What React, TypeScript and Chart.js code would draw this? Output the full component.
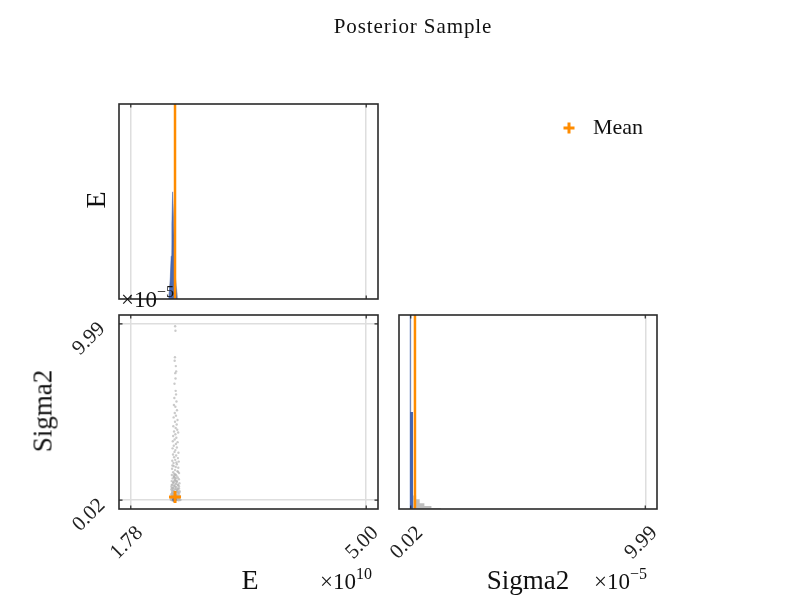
import React, { useEffect, useRef } from "react";
import { Chart, registerables } from "chart.js";
Chart.register(...registerables);

const W = 798;
const H = 600;

const TITLE = "Posterior Sample";
const PARAM_NAMES = ["E", "Sigma2"];
const LEGEND_LABEL = "Mean";
const E_EXP = "10";
const S_EXP = "\u22125";

const E_TICKS = [1.78, 5.0];
const S_TICKS = [0.02, 9.99];
const E_RANGE = [1.619, 5.161];
const S_RANGE = [-0.4785, 10.4885];

const E_MEAN = 2.385;
const S_MEAN = 0.2;
const TRUE_E = 2.377;
const TRUE_S = 0.05;

// marginal histogram of E (x in 1e10, density arbitrary)
const E_HIST_X = [2.3, 2.318, 2.332, 2.342, 2.352, 2.362, 2.375, 2.392, 2.414];
const E_HIST_Y = [0, 16, 40, 70, 100, 82, 50, 18, 0];
const E_HIST2_X = [2.29, 2.315, 2.338, 2.358, 2.38, 2.402, 2.43];
const E_HIST2_Y = [0, 18, 46, 68, 44, 16, 0];
const E_YMAX = 182;

// marginal histogram of Sigma2 (x in 1e-5)
const S_HIST_X = [-0.03, -0.03, 0.02, 0.02, 0.12, 0.12];
const S_HIST_Y = [0, 130, 130, 50, 50, 0];
const S_TAIL_X = [0.12, 0.12, 0.25, 0.25, 0.4, 0.4, 0.6, 0.6, 0.9, 0.9, 1.3, 1.3];
const S_TAIL_Y = [0, 7, 7, 5, 5, 3, 3, 1.5, 1.5, 0.5, 0.5, 0];
const S_YMAX = 100;

// posterior samples (E in 1e10, Sigma2 in 1e-5)
const SAMPLE_E = [
  2.387, 2.391, 2.384, 2.380, 2.396, 2.388, 2.401, 2.392, 2.378, 2.394,
  2.399, 2.376, 2.405, 2.370, 2.390, 2.412, 2.382, 2.398, 2.366, 2.419,
  2.385, 2.408, 2.362, 2.394, 2.415, 2.372, 2.428, 2.390, 2.360, 2.403,
  2.380, 2.355, 2.420, 2.397, 2.368, 2.410, 2.352, 2.390, 2.378, 2.432,
  2.358, 2.400, 2.372, 2.425, 2.388, 2.348, 2.436, 2.365, 2.410, 2.350,
  2.395, 2.430, 2.345, 2.385, 2.418, 2.360, 2.440, 2.375, 2.342, 2.405,
  2.370, 2.422, 2.352, 2.438, 2.385, 2.340, 2.412, 2.362, 2.445, 2.392,
  2.348, 2.428, 2.378, 2.336, 2.402, 2.358, 2.440, 2.386, 2.334, 2.415,
  2.366, 2.448, 2.345, 2.395, 2.425, 2.356, 2.380, 2.332, 2.438, 2.405,
  2.350, 2.372, 2.452, 2.392, 2.340, 2.418, 2.362, 2.432, 2.384, 2.330,
  2.408, 2.368, 2.442, 2.348, 2.396, 2.328, 2.422, 2.364, 2.388, 2.455,
  2.343, 2.410, 2.358, 2.435, 2.376, 2.338, 2.460, 2.398, 2.354, 2.420,
  2.346, 2.400, 2.370, 2.428, 2.340, 2.446, 2.382, 2.356, 2.415, 2.366,
  2.338, 2.440, 2.404, 2.350, 2.390, 2.426,
  2.352, 2.368, 2.384, 2.398, 2.412, 2.426, 2.344, 2.360, 2.376, 2.392,
  2.406, 2.420, 2.436, 2.348, 2.364, 2.380, 2.396, 2.414, 2.430, 2.356,
  2.372, 2.388, 2.404, 2.418, 2.342, 2.366, 2.382, 2.400, 2.424, 2.358,
  2.374, 2.390, 2.410, 2.434, 2.350, 2.378, 2.394, 2.416, 2.362, 2.386,
];
const SAMPLE_S = [
  9.85, 9.60, 8.10, 7.90, 7.60, 7.20, 7.30, 6.90, 6.60, 6.20,
  6.00, 5.80, 5.60, 5.40, 5.30, 5.10, 4.95, 4.80, 4.70, 4.55,
  4.45, 4.30, 4.20, 4.10, 4.00, 3.90, 3.85, 3.75, 3.65, 3.55,
  3.45, 3.35, 3.30, 3.20, 3.10, 3.00, 2.95, 2.85, 2.75, 2.70,
  2.60, 2.55, 2.45, 2.40, 2.30, 2.25, 2.20, 2.12, 2.05, 1.98,
  1.90, 1.85, 1.80, 1.72, 1.66, 1.60, 1.55, 1.50, 1.44, 1.40,
  1.35, 1.30, 1.25, 1.20, 1.15, 1.10, 1.06, 1.02, 0.98, 0.94,
  0.90, 0.86, 0.82, 0.78, 0.75, 0.72, 0.68, 0.65, 0.62, 0.59,
  0.56, 0.53, 0.50, 0.47, 0.44, 0.41, 0.38, 0.36, 0.34, 0.31,
  0.29, 0.27, 0.25, 0.23, 0.21, 0.19, 0.17, 0.15, 0.13, 0.12,
  0.10, 0.09, 0.08, 0.07, 0.06, 0.05, 0.05, 0.04, 0.035, 0.03,
  0.03, 0.025, 0.02, 0.02, 0.02, 0.025, 0.04, 0.15, 0.33, 0.52,
  0.70, 1.08, 1.38, 1.62, 0.88, 0.46, 1.27, 0.11, 0.58, 1.95,
  0.24, 0.80, 2.15, 0.40, 1.48, 0.67,
  0.08, 0.12, 0.05, 0.18, 0.10, 0.07, 0.22, 0.30, 0.14, 0.26,
  0.35, 0.20, 0.11, 0.45, 0.55, 0.40, 0.62, 0.50, 0.28, 0.70,
  0.85, 0.78, 0.95, 0.66, 0.16, 1.05, 1.15, 1.25, 0.88, 0.38,
  1.32, 1.45, 1.10, 0.42, 0.58, 0.04, 0.09, 0.24, 1.00, 0.32,
];

const ORANGE = "#ff8c00";
const BLUE = "rgba(52,88,170,0.9)";
const GRAY = "rgba(180,180,180,0.7)";
const GRID = "#dedede";
const FRAME = "#2a2a2a";
const SERIF = "'Liberation Serif', 'Times New Roman', serif";

const XAXIS_H = 80;
const YAXIS_W = 100;

const zipXY = (xs: number[], ys: number[]) =>
  xs.slice(0, Math.min(xs.length, ys.length)).map((x, i) => ({ x, y: ys[i] }));

const fmt2 = (v: any) => Number(v).toFixed(2);

function framePlugin(yTicks: boolean) {
  return {
    id: "frame",
    afterDraw(chart: any) {
      const { ctx, chartArea: a } = chart;
      ctx.save();
      ctx.strokeStyle = FRAME;
      ctx.lineWidth = 1.2;
      const xs = chart.scales.x;
      ctx.beginPath();
      for (const t of xs.ticks) {
        const px = xs.getPixelForValue(t.value);
        ctx.moveTo(px, a.top);
        ctx.lineTo(px, a.top + 3.5);
        ctx.moveTo(px, a.bottom);
        ctx.lineTo(px, a.bottom - 3.5);
      }
      if (yTicks) {
        const ys = chart.scales.y;
        for (const t of ys.ticks) {
          const py = ys.getPixelForValue(t.value);
          ctx.moveTo(a.left, py);
          ctx.lineTo(a.left + 3.5, py);
          ctx.moveTo(a.right, py);
          ctx.lineTo(a.right - 3.5, py);
        }
      }
      ctx.stroke();
      ctx.lineWidth = 1.6;
      ctx.strokeRect(a.left, a.top, a.right - a.left, a.bottom - a.top);
      ctx.restore();
    },
  };
}

const legendPlugin = {
  id: "meanLegend",
  afterDraw(chart: any) {
    const { ctx } = chart;
    ctx.save();
    ctx.strokeStyle = ORANGE;
    ctx.lineWidth = 3;
    const cx = 569;
    const cy = 128;
    ctx.beginPath();
    ctx.moveTo(cx - 5.5, cy);
    ctx.lineTo(cx + 5.5, cy);
    ctx.moveTo(cx, cy - 5.5);
    ctx.lineTo(cx, cy + 5.5);
    ctx.stroke();
    ctx.fillStyle = "#111";
    ctx.font = `22px ${SERIF}`;
    ctx.textBaseline = "middle";
    ctx.textAlign = "left";
    ctx.fillText(LEGEND_LABEL, 593, 128);
    ctx.restore();
  },
};

const tickFont = { family: SERIF, size: 21 };

function xAxis(range: number[], ticks: number[], showLabels: boolean) {
  return {
    type: "linear",
    position: "bottom",
    min: range[0],
    max: range[1],
    afterBuildTicks: (s: any) => {
      s.ticks = ticks.map((v) => ({ value: v }));
    },
    afterFit: (s: any) => {
      s.height = showLabels ? XAXIS_H : 0;
    },
    ticks: {
      display: showLabels,
      autoSkip: false,
      minRotation: 45,
      maxRotation: 45,
      padding: 12,
      labelOffset: 9,
      color: "#222",
      font: tickFont,
      callback: fmt2,
    },
    grid: { color: GRID, lineWidth: 1.5, drawTicks: false },
    border: { display: false },
  };
}

function pad(l: number, t: number, r: number, b: number) {
  return { left: l, top: t, right: W - r, bottom: H - b };
}

export default function App() {
  const r1 = useRef<HTMLCanvasElement>(null);
  const r2 = useRef<HTMLCanvasElement>(null);
  const r3 = useRef<HTMLCanvasElement>(null);

  useEffect(() => {
    const common = {
      responsive: false,
      animation: false,
      events: [],
      plugins: { legend: { display: false }, tooltip: { enabled: false }, title: { display: false } },
    };

    const c1 = new Chart(r1.current!, {
      type: "line",
      data: {
        datasets: [
          {
            data: [
              { x: E_MEAN, y: 0 },
              { x: E_MEAN, y: E_YMAX },
            ],
            borderColor: ORANGE,
            borderWidth: 2.5,
            pointRadius: 0,
            fill: false,
          },
          {
            data: zipXY(E_HIST_X, E_HIST_Y),
            fill: "origin",
            backgroundColor: "rgba(52,88,170,0.85)",
            borderColor: "rgba(52,88,170,0.9)",
            borderWidth: 0.5,
            pointRadius: 0,
          },
          {
            data: zipXY(E_HIST2_X, E_HIST2_Y),
            fill: "origin",
            backgroundColor: "rgba(170,170,170,0.55)",
            borderWidth: 0,
            pointRadius: 0,
          },
        ],
      },
      options: {
        ...common,
        layout: { padding: pad(119, 104, 378, 299) },
        scales: {
          x: xAxis(E_RANGE, E_TICKS, false),
          y: { type: "linear", min: 0, max: E_YMAX, display: false },
        },
      } as any,
      plugins: [framePlugin(false)],
    } as any);

    const c2 = new Chart(r2.current!, {
      type: "scatter",
      data: {
        datasets: [
          {
            data: [{ x: E_MEAN, y: S_MEAN }],
            pointStyle: "cross",
            pointRadius: 6,
            borderColor: ORANGE,
            borderWidth: 3,
          },
          {
            data: [{ x: TRUE_E, y: TRUE_S }],
            pointRadius: 2.2,
            backgroundColor: BLUE,
            borderWidth: 0,
          },
          {
            data: zipXY(SAMPLE_E, SAMPLE_S),
            pointRadius: 1.2,
            backgroundColor: GRAY,
            borderWidth: 0,
          },
        ],
      },
      options: {
        ...common,
        layout: { padding: { left: 119 - YAXIS_W, top: 315, right: W - 378, bottom: H - 509 - XAXIS_H } },
        scales: {
          x: xAxis(E_RANGE, E_TICKS, true),
          y: {
            type: "linear",
            position: "left",
            min: S_RANGE[0],
            max: S_RANGE[1],
            afterBuildTicks: (s: any) => {
              s.ticks = S_TICKS.map((v) => ({ value: v }));
            },
            afterFit: (s: any) => {
              s.width = YAXIS_W;
            },
            ticks: {
              autoSkip: false,
              minRotation: 45,
              maxRotation: 45,
              padding: 17,
              labelOffset: 2,
              color: "#222",
              font: tickFont,
              callback: fmt2,
            },
            grid: { color: GRID, lineWidth: 1.5, drawTicks: false },
            border: { display: false },
          },
        },
      } as any,
      plugins: [framePlugin(true)],
    } as any);

    const c3 = new Chart(r3.current!, {
      type: "line",
      data: {
        datasets: [
          {
            data: [
              { x: S_MEAN, y: 0 },
              { x: S_MEAN, y: S_YMAX },
            ],
            borderColor: ORANGE,
            borderWidth: 2.5,
            pointRadius: 0,
            fill: false,
          },
          {
            data: zipXY(S_HIST_X, S_HIST_Y),
            fill: "origin",
            backgroundColor: BLUE,
            borderWidth: 0,
            pointRadius: 0,
          },
          {
            data: zipXY(S_TAIL_X, S_TAIL_Y),
            fill: "origin",
            backgroundColor: "rgba(175,175,175,0.8)",
            borderWidth: 0,
            pointRadius: 0,
          },
        ],
      },
      options: {
        ...common,
        layout: { padding: { left: 399, top: 315, right: W - 657, bottom: H - 509 - XAXIS_H } },
        scales: {
          x: xAxis(S_RANGE, S_TICKS, true),
          y: { type: "linear", min: 0, max: S_YMAX, display: false },
        },
      } as any,
      plugins: [framePlugin(false), legendPlugin],
    } as any);

    return () => {
      c1.destroy();
      c2.destroy();
      c3.destroy();
    };
  }, []);

  const canvasStyle: React.CSSProperties = { position: "absolute", left: 0, top: 0 };
  const txt: React.CSSProperties = {
    position: "absolute",
    fontFamily: SERIF,
    color: "#111",
    whiteSpace: "nowrap",
    lineHeight: 1,
  };
  const offsetText = (left: number, top: number, exp: string) => (
    <div style={{ ...txt, left, top, fontSize: 23 }}>
      {"\u00d710"}
      <span style={{ fontSize: 16, position: "relative", top: -10 }}>{exp}</span>
    </div>
  );

  return (
    <div style={{ position: "absolute", left: 0, top: 0, width: W, height: H, background: "#fff" }}>
      <canvas ref={r1} width={W} height={H} style={canvasStyle} />
      <canvas ref={r2} width={W} height={H} style={canvasStyle} />
      <canvas ref={r3} width={W} height={H} style={canvasStyle} />
      <div style={{ ...txt, left: 413, top: 16, fontSize: 21, letterSpacing: 0.9, transform: "translateX(-50%)" }}>
        {TITLE}
      </div>
      <div style={{ ...txt, left: 96, top: 200, fontSize: 28, transform: "translate(-50%,-50%) rotate(-90deg)" }}>
        {PARAM_NAMES[0]}
      </div>
      <div style={{ ...txt, left: 43, top: 411, fontSize: 27, transform: "translate(-50%,-50%) rotate(-90deg)" }}>
        {PARAM_NAMES[1]}
      </div>
      <div style={{ ...txt, left: 250, top: 566, fontSize: 28, transform: "translateX(-50%)" }}>{PARAM_NAMES[0]}</div>
      <div style={{ ...txt, left: 528, top: 567, fontSize: 27, transform: "translateX(-50%)" }}>{PARAM_NAMES[1]}</div>
      {offsetText(320, 570, E_EXP)}
      {offsetText(594, 570, S_EXP)}
      {offsetText(121, 288, S_EXP)}
    </div>
  );
}
